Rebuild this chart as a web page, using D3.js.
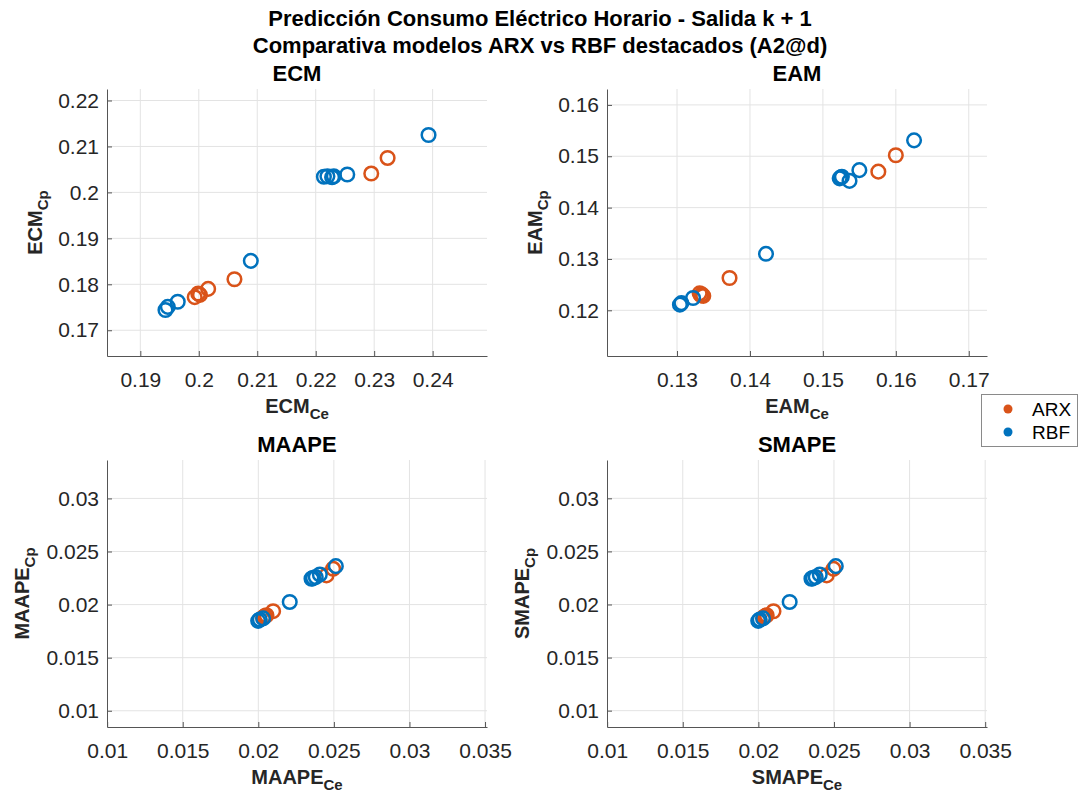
<!DOCTYPE html>
<html>
<head>
<meta charset="utf-8">
<script src="https://cdn.jsdelivr.net/npm/d3@7"></script>
<style>
  body { margin: 0; background: #fff; }
  svg { display: block; font-family: "Liberation Sans", Arial, Helvetica, sans-serif; }
</style>
</head>
<body>
<svg id="chart" width="1079" height="796"></svg>
<script>
// ---- data -------------------------------------------------------------
const seriesNames = ["ARX", "RBF"];
const seriesColors = ["#D95319", "#0072BD"];

// ARX models: error on Ce (x) and on Cp (y)
const arxEcmCe   = [0.2323, 0.2295, 0.2061, 0.2016, 0.2002, 0.1999, 0.1993];
const arxEcmCp   = [0.2075, 0.2041, 0.1811, 0.1790, 0.1777, 0.1780, 0.1772];
const arxEamCe   = [0.1600, 0.1576, 0.1372, 0.1336, 0.1333, 0.1331, 0.1334];
const arxEamCp   = [0.1502, 0.1470, 0.1263, 0.1228, 0.1229, 0.1233, 0.1231];
const arxMaapeCe = [0.02495, 0.02451, 0.02098, 0.02054, 0.02043, 0.02032, 0.02038];
const arxMaapeCp = [0.02337, 0.02275, 0.01938, 0.01900, 0.01891, 0.01879, 0.01884];
const arxSmapeCe = [0.02497, 0.02452, 0.02100, 0.02055, 0.02044, 0.02033, 0.02039];
const arxSmapeCp = [0.02335, 0.02274, 0.01936, 0.01899, 0.01890, 0.01878, 0.01883];

// RBF models
const rbfEcmCe   = [0.2393, 0.2254, 0.2231, 0.2228, 0.2220, 0.2214, 0.2089, 0.1964, 0.1947, 0.1943];
const rbfEcmCp   = [0.2125, 0.2039, 0.2035, 0.2033, 0.2035, 0.2034, 0.1851, 0.1762, 0.1751, 0.1744];
const rbfEamCe   = [0.1625, 0.1550, 0.15365, 0.1526, 0.1525, 0.1523, 0.1422, 0.1322, 0.1306, 0.1304];
const rbfEamCp   = [0.1531, 0.1473, 0.1452, 0.1460, 0.1459, 0.1457, 0.1310, 0.1224, 0.1214, 0.1211];
const rbfMaapeCe = [0.02513, 0.02407, 0.02380, 0.02362, 0.02352, 0.02357, 0.02208, 0.02032, 0.02010, 0.01999];
const rbfMaapeCp = [0.02362, 0.02284, 0.02259, 0.02250, 0.02244, 0.02247, 0.02025, 0.01870, 0.01860, 0.01847];
const rbfSmapeCe = [0.02512, 0.02406, 0.02379, 0.02361, 0.02351, 0.02356, 0.02207, 0.02031, 0.02009, 0.01999];
const rbfSmapeCp = [0.02361, 0.02283, 0.02258, 0.02249, 0.02243, 0.02246, 0.02024, 0.01869, 0.01859, 0.01846];

// tick values
const ecmTicksX = [0.19, 0.20, 0.21, 0.22, 0.23, 0.24];
const ecmTicksY = [0.17, 0.18, 0.19, 0.20, 0.21, 0.22];
const eamTicksX = [0.13, 0.14, 0.15, 0.16, 0.17];
const eamTicksY = [0.12, 0.13, 0.14, 0.15, 0.16];
const pctTicksX = [0.01, 0.015, 0.02, 0.025, 0.03, 0.035];
const pctTicksY = [0.01, 0.015, 0.02, 0.025, 0.03];

const titleLines = [
  "Predicción Consumo Eléctrico Horario - Salida k + 1",
  "Comparativa modelos ARX vs RBF destacados (A2@d)"
];

// ---- layout -----------------------------------------------------------
const panels = [
  { name: "ECM",   xs: [arxEcmCe, rbfEcmCe],     ys: [arxEcmCp, rbfEcmCp],     tx: ecmTicksX, ty: ecmTicksY, box: [107, 487, 89, 356],  yLabOff: 65 },
  { name: "EAM",   xs: [arxEamCe, rbfEamCe],     ys: [arxEamCp, rbfEamCp],     tx: eamTicksX, ty: eamTicksY, box: [607, 987, 89, 356],  yLabOff: 65 },
  { name: "MAAPE", xs: [arxMaapeCe, rbfMaapeCe], ys: [arxMaapeCp, rbfMaapeCp], tx: pctTicksX, ty: pctTicksY, box: [107, 487, 460, 727], yLabOff: 78 },
  { name: "SMAPE", xs: [arxSmapeCe, rbfSmapeCe], ys: [arxSmapeCp, rbfSmapeCp], tx: pctTicksX, ty: pctTicksY, box: [607, 987, 460, 727], yLabOff: 78 }
];

const svg = d3.select("#chart");
const fmt = d => String(+d.toFixed(4));
const pad = 0.01;   // limits: data range widened by 0.01 on each side

// figure title
svg.selectAll("text.suptitle").data(titleLines).join("text")
  .attr("class", "suptitle")
  .attr("x", 540).attr("y", (d, i) => 26 + i * 27)
  .attr("text-anchor", "middle")
  .attr("font-size", 22).attr("font-weight", "bold").attr("fill", "#000")
  .text(d => d);

function subLabel(sel, main, sub) {
  sel.append("tspan").text(main);
  sel.append("tspan").attr("font-size", 15).attr("dy", 6).text(sub);
}

panels.forEach(p => {
  const [x0, x1, y0, y1] = p.box;
  const allX = p.xs.flat(), allY = p.ys.flat();
  const x = d3.scaleLinear().domain([d3.min(allX) - pad, d3.max(allX) + pad]).range([x0, x1]);
  const y = d3.scaleLinear().domain([d3.min(allY) - pad, d3.max(allY) + pad]).range([y1, y0]);

  const g = svg.append("g");

  // grid
  g.append("g").selectAll("line").data(p.tx.filter(v => x(v) > x0 + 0.5)).join("line")
    .attr("x1", d => x(d)).attr("x2", d => x(d)).attr("y1", y0).attr("y2", y1)
    .attr("stroke", "#e3e3e3").attr("stroke-width", 1);
  g.append("g").selectAll("line").data(p.ty).join("line")
    .attr("x1", x0).attr("x2", x1).attr("y1", d => y(d)).attr("y2", d => y(d))
    .attr("stroke", "#e3e3e3").attr("stroke-width", 1);

  // axes (ticks pointing inward)
  const ax = g.append("g").attr("transform", `translate(0,${y1})`)
    .call(d3.axisBottom(x).tickValues(p.tx).tickFormat(fmt).tickSize(-5).tickSizeOuter(0).tickPadding(16));
  const ay = g.append("g").attr("transform", `translate(${x0},0)`)
    .call(d3.axisLeft(y).tickValues(p.ty).tickFormat(fmt).tickSize(-5).tickSizeOuter(0).tickPadding(8));
  [ax, ay].forEach(a => {
    a.select(".domain").attr("stroke", "#555");
    a.selectAll(".tick line").attr("stroke", "#555");
    a.selectAll(".tick text").attr("fill", "#262626").attr("font-size", 21)
      .attr("font-family", "'Liberation Sans', Arial, sans-serif");
  });

  // points
  p.xs.forEach((xv, s) => {
    g.append("g").selectAll("circle").data(xv.map((v, i) => [v, p.ys[s][i]])).join("circle")
      .attr("cx", d => x(d[0])).attr("cy", d => y(d[1])).attr("r", 6.8)
      .attr("fill", "none").attr("stroke", seriesColors[s]).attr("stroke-width", 2.5);
  });

  // subplot title
  g.append("text").attr("x", (x0 + x1) / 2).attr("y", y0 - 8)
    .attr("text-anchor", "middle").attr("font-size", 22).attr("font-weight", "bold").attr("fill", "#000")
    .text(p.name);

  // axis labels
  g.append("text").attr("x", (x0 + x1) / 2).attr("y", y1 + 57)
    .attr("text-anchor", "middle").attr("font-size", 20).attr("font-weight", "bold").attr("fill", "#262626")
    .call(subLabel, p.name, "Ce");
  g.append("text")
    .attr("transform", `translate(${x0 - p.yLabOff},${(y0 + y1) / 2}) rotate(-90)`)
    .attr("text-anchor", "middle").attr("font-size", 20).attr("font-weight", "bold").attr("fill", "#262626")
    .call(subLabel, p.name, "Cp");
});

// legend
const leg = svg.append("g");
leg.append("rect").attr("x", 981.5).attr("y", 394.5).attr("width", 96).attr("height", 52)
  .attr("fill", "#fff").attr("stroke", "#8a8a8a").attr("stroke-width", 1);
seriesNames.forEach((n, i) => {
  leg.append("circle").attr("cx", 1008).attr("cy", 409 + i * 23).attr("r", 4.5).attr("fill", seriesColors[i]);
  leg.append("text").attr("x", 1032).attr("y", 409 + i * 23).attr("dy", "0.35em")
    .attr("font-size", 19).attr("fill", "#000").text(n);
});
</script>
</body>
</html>
